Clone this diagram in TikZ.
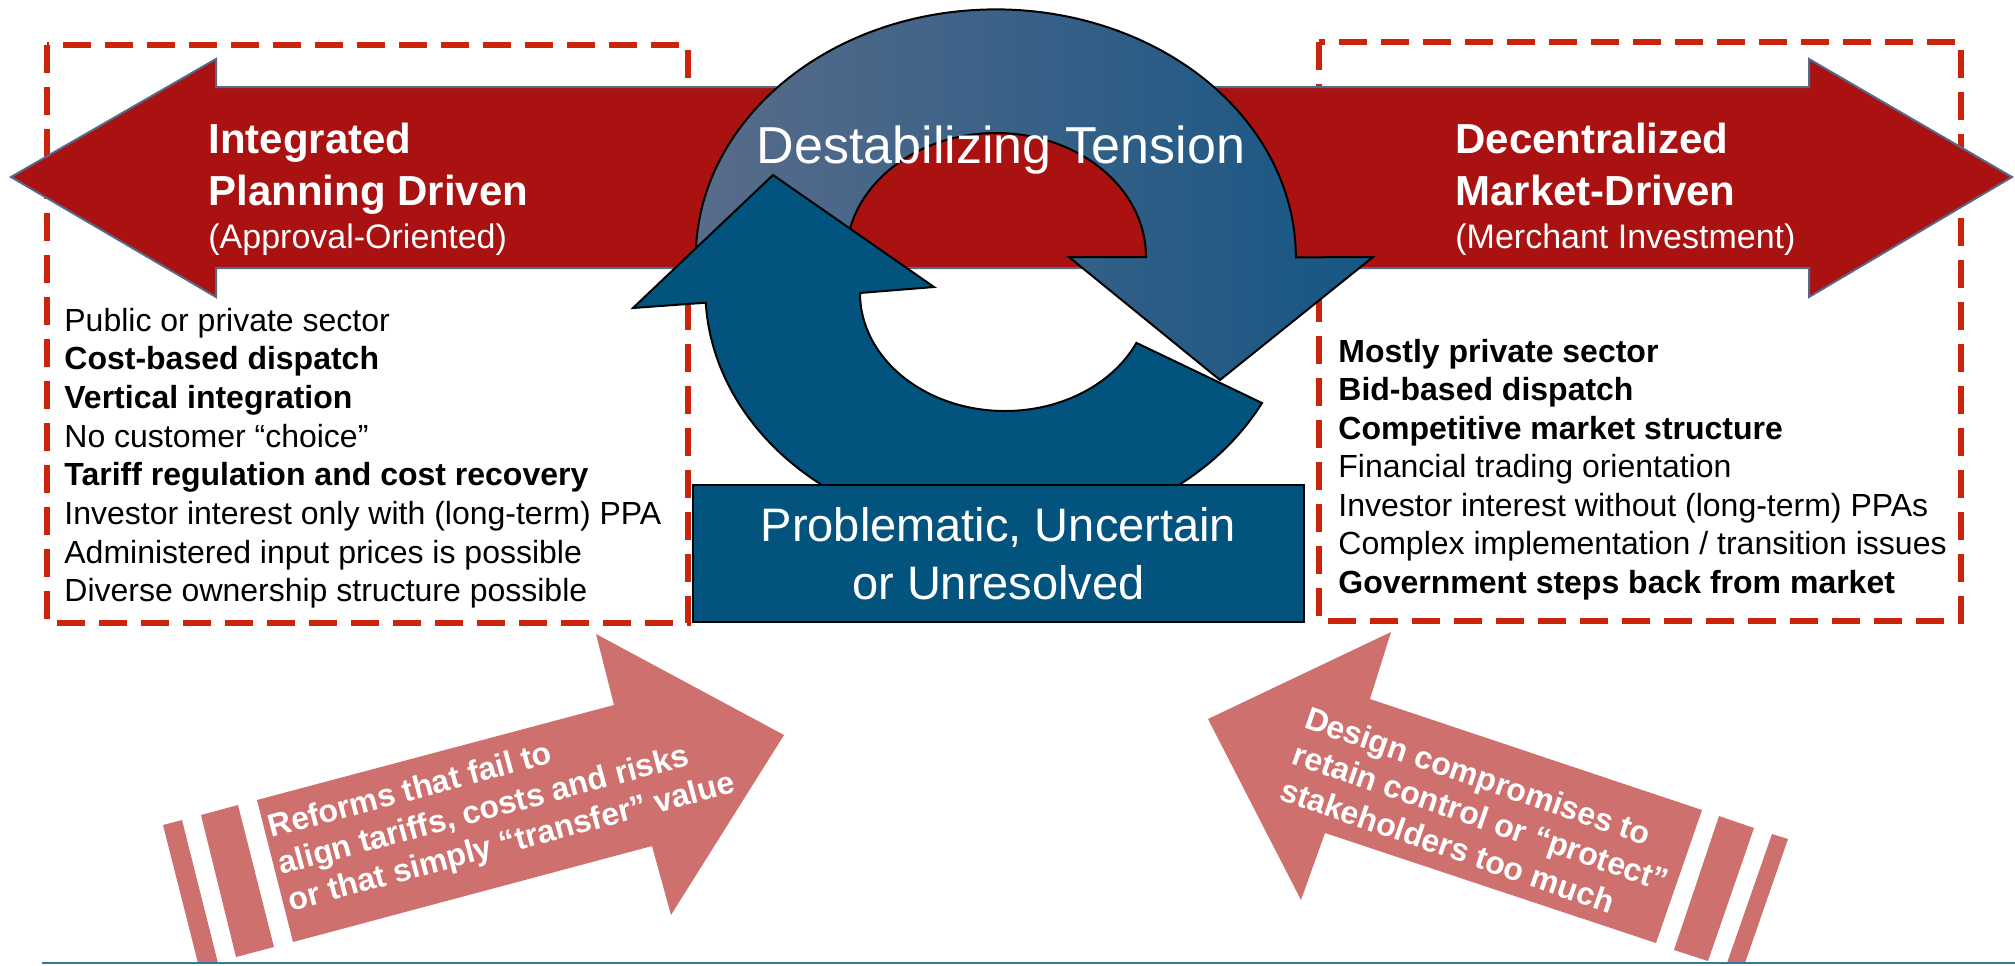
\documentclass[tikz,border=0pt]{standalone}
\usepackage{fontspec}
\setmainfont{Liberation Sans}
\definecolor{shaftred}{RGB}{170,17,17}
\definecolor{shaftedge}{RGB}{84,106,139}
\definecolor{dashred}{RGB}{204,36,10}
\definecolor{tensionleft}{RGB}{90,108,138}
\definecolor{tensionright}{RGB}{22,86,132}
\definecolor{cycleblue}{RGB}{2,84,127}
\definecolor{pushpink}{RGB}{205,112,110}
\definecolor{footblue}{RGB}{52,118,160}
\tikzset{
  dashbox/.style={draw=dashred, line width=2.6pt, dash pattern=on 14pt off 7pt},
  listline/.style={anchor=base west, inner sep=0pt, font=\fontsize{16}{19}\selectfont},
  headline/.style={anchor=base west, inner sep=0pt, text=white},
  pushtext/.style={text=white, align=left, inner sep=0pt, font=\bfseries\fontsize{16}{19}\selectfont},
}
\begin{document}
\begin{tikzpicture}[x=0.5pt,y=-0.5pt]
    \useasboundingbox (0,0) rectangle (2015,965);
    \draw[dashbox] (47,45) rectangle (688,623);
    \draw[dashbox] (1319,42) rectangle (1961,621);
    % the two-way shaft
    \draw[fill=shaftred,draw=shaftedge,line width=1pt] (11,177) -- (216,59) -- (216,87) -- (1809,87) -- (1809,59) -- (2012,177)
          -- (1809,297) -- (1809,268) -- (216,268) -- (216,297) -- cycle;
    \node[headline,font=\bfseries\fontsize{21}{26}\selectfont] (plan1) at (208,153) {Integrated};
    \node[headline,font=\bfseries\fontsize{21}{26}\selectfont] (plan2) at (208,205) {Planning Driven};
    \node[headline,font=\fontsize{17}{21}\selectfont] (plan3) at (208,248) {(Approval-Oriented)};
    \node[headline,font=\bfseries\fontsize{21}{26}\selectfont] (market1) at (1455,153) {Decentralized};
    \node[headline,font=\bfseries\fontsize{21}{26}\selectfont] (market2) at (1455,205) {Market-Driven};
    \node[headline,font=\fontsize{17}{21}\selectfont] (market3) at (1455,248) {(Merchant Investment)};
    % upper turning arrow
    \shadedraw[left color=tensionleft,right color=tensionright,draw=black,line width=1pt] (697,279)
          arc[start angle=175, end angle=360, x radius=300, y radius=248] -- (1373,257) -- (1220,380) -- (1069,257) -- (1146,257)
          arc[start angle=0, end angle=-185, x radius=150, y radius=124] -- cycle;
    \node[anchor=base,text=white,inner sep=0pt,font=\fontsize{26}{30}\selectfont] (tension) at (1001,163) {Destabilizing Tension};
    % lower turning arrow
    \draw[fill=cycleblue,draw=black,line width=1pt] (773,175) -- (934,287) -- (860,293)
          arc[start angle=180, end angle=25, x radius=145, y radius=118] -- (1262,403)
          arc[start angle=27.5, end angle=177, x radius=295, y radius=245] -- (633,308) -- cycle;
    \node[draw=black,line width=1pt,fill=cycleblue,minimum width=305.5pt,minimum height=68.5pt,inner sep=0pt,
          text=white,align=center,font=\fontsize{23.5}{29}\selectfont] (unresolved) at (998.5,553.5) {Problematic, Uncertain\\or Unresolved};
    % lists
    \foreach \t [count=\i from 0] in {Public or private sector,\textbf{Cost-based dispatch},\textbf{Vertical integration},
          No customer “choice”,\textbf{Tariff regulation and cost recovery},Investor interest only with (long-term) PPA,
          Administered input prices is possible,Diverse ownership structure possible}
      \node[listline] (planitem\i) at (64,331+38.7*\i) {\t};
    \foreach \t [count=\i from 0] in {\textbf{Mostly private sector},\textbf{Bid-based dispatch},\textbf{Competitive market structure},
          Financial trading orientation,Investor interest without (long-term) PPAs,Complex implementation / transition issues,
          \textbf{Government steps back from market}}
      \node[listline] (marketitem\i) at (1338,362+38.5*\i) {\t};
    % pushing arrows
    \fill[pushpink] (257,800) -- (614,705) -- (596,634) -- (784,735) -- (671,915) -- (652,846) -- (293,942) -- cycle;
    \fill[pushpink] (201,815) -- (238,805) -- (274,947) -- (236,957) -- cycle;
    \fill[pushpink] (163,825) -- (182,820) -- (218,963) -- (198,963) -- cycle;
    \node[pushtext,rotate=15] (reform) at (502,807) {Reforms that fail to\\align tariffs, costs and risks\\or that simply “transfer” value};
    \fill[pushpink] (1370,699) -- (1702,810) -- (1656,943) -- (1325,833) -- (1301,900) -- (1208,719) -- (1391,632) -- cycle;
    \fill[pushpink] (1719,816) -- (1754,828) -- (1708,961) -- (1674,950) -- cycle;
    \fill[pushpink] (1772,834) -- (1788,839) -- (1745,963) -- (1727,963) -- cycle;
    \node[pushtext,rotate=-19] (compromise) at (1481,817) {Design compromises to\\retain control or “protect”\\stakeholders too much};
    \draw[footblue,line width=1pt] (42,963) -- (2015,963);
\end{tikzpicture}
\end{document}
